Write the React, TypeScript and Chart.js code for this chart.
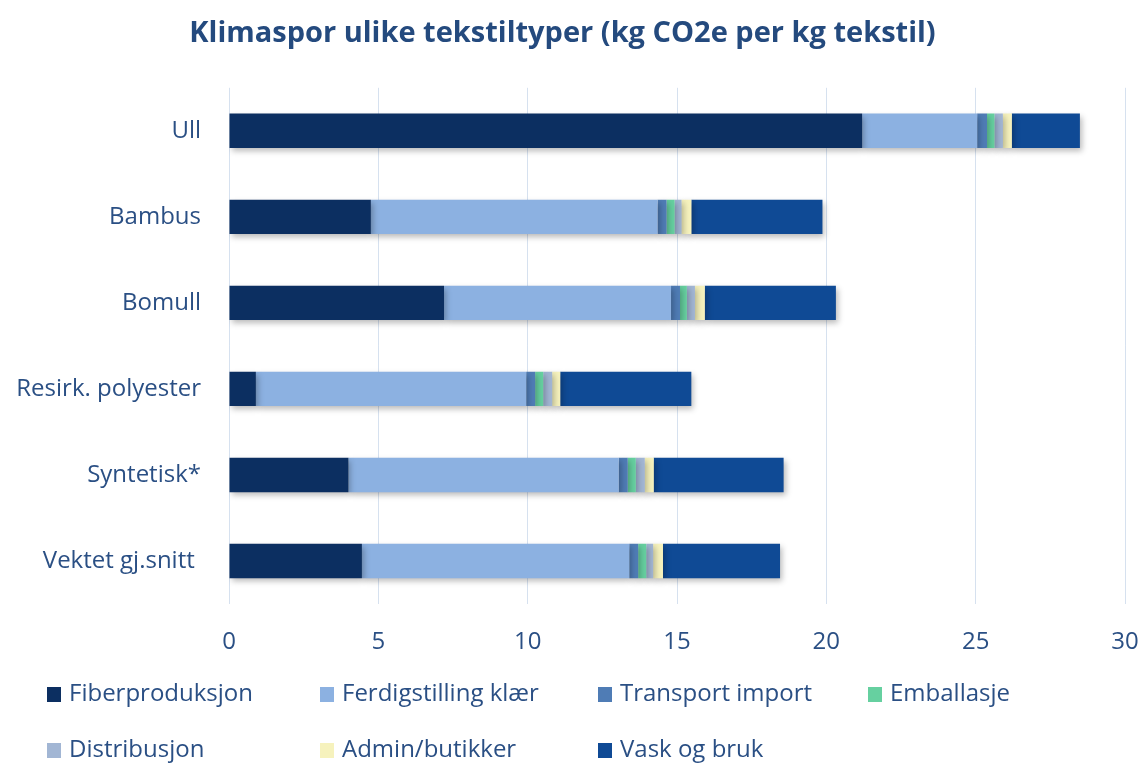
import React, { useEffect, useRef } from "react";
import { Chart, registerables } from "chart.js";

Chart.register(...registerables);

const categories = ["Ull", "Bambus", "Bomull", "Resirk. polyester", "Syntetisk*", "Vektet gj.snitt "];
const fiberproduksjon = [21.2, 4.75, 7.2, 0.9, 4.0, 4.45];
const ferdigstilling = [3.85, 9.6, 7.6, 9.05, 9.05, 8.95];
const transportImport = [0.33, 0.3, 0.3, 0.3, 0.3, 0.3];
const emballasje = [0.25, 0.27, 0.23, 0.27, 0.27, 0.27];
const distribusjon = [0.28, 0.23, 0.27, 0.3, 0.3, 0.23];
const adminButikker = [0.3, 0.33, 0.33, 0.27, 0.3, 0.33];
const vaskOgBruk = [2.28, 4.39, 4.39, 4.39, 4.35, 3.92];
const xTicks = [0, 5, 10, 15, 20, 25, 30];

const seriesNames = [
  "Fiberproduksjon",
  "Ferdigstilling klær",
  "Transport import",
  "Emballasje",
  "Distribusjon",
  "Admin/butikker",
  "Vask og bruk",
];
const seriesValues = [fiberproduksjon, ferdigstilling, transportImport, emballasje, distribusjon, adminButikker, vaskOgBruk];
const seriesColors = ["#0c2f61", "#8cb1e1", "#4f7cb5", "#66d0a0", "#a2b6d4", "#f6f2bd", "#0f4a95"];

const TEXT = "#2a4f84";
const FONT = '"Open Sans", "Liberation Sans", sans-serif';

const shadowPlugin = {
  id: "barShadow",
  beforeDatasetsDraw(chart: any) {
    const ctx = chart.ctx;
    ctx.save();
    ctx.shadowColor = "rgba(0,0,0,0.28)";
    ctx.shadowBlur = 6;
    ctx.shadowOffsetX = 2;
    ctx.shadowOffsetY = 3;
  },
  afterDatasetsDraw(chart: any) {
    chart.ctx.restore();
  },
};

const legendPlugin = {
  id: "gridLegend",
  afterDraw(chart: any) {
    const ctx = chart.ctx;
    const colX = [47, 320, 598, 868];
    const rowY = [694, 750];
    ctx.save();
    ctx.font = `24px ${FONT}`;
    ctx.textBaseline = "middle";
    ctx.textAlign = "left";
    seriesNames.forEach((name, i) => {
      const x = colX[i % 4];
      const y = rowY[Math.floor(i / 4)];
      ctx.fillStyle = seriesColors[i];
      ctx.fillRect(x, y - 7, 14, 15);
      ctx.fillStyle = TEXT;
      ctx.fillText(name, x + 22, y);
    });
    ctx.restore();
  },
};

export default function App() {
  const ref = useRef<HTMLCanvasElement>(null);
  useEffect(() => {
    if (!ref.current) return;
    const chart = new Chart(ref.current, {
      type: "bar",
      data: {
        labels: categories,
        datasets: seriesNames.map((name, i) => ({
          label: name,
          data: seriesValues[i],
          backgroundColor: seriesColors[i],
          borderWidth: 0,
          barPercentage: 0.4,
          categoryPercentage: 1,
        })),
      },
      options: {
        indexAxis: "y",
        animation: false,
        responsive: false,
        maintainAspectRatio: false,
        layout: { padding: { left: 0, right: 20, top: 0, bottom: 101 } },
        plugins: {
          legend: { display: false },
          tooltip: { enabled: false },
          title: {
            display: true,
            text: "Klimaspor ulike tekstiltyper (kg CO2e per kg tekstil)",
            color: "#244a7e",
            font: { family: FONT, size: 29, weight: "bold" },
            padding: { top: 16, bottom: 37 },
          },
        },
        scales: {
          x: {
            stacked: true,
            min: 0,
            max: 30,
            afterBuildTicks(scale: any) {
              scale.ticks = xTicks.map((v) => ({ value: v }));
            },
            afterFit(scale: any) {
              scale.height = 60;
              scale.paddingRight = 0;
              scale.paddingLeft = 0;
            },
            grid: { color: "#d6e1ef", lineWidth: 1, drawTicks: false },
            border: { display: false },
            ticks: { color: TEXT, font: { family: FONT, size: 24 }, padding: 24 },
          },
          y: {
            stacked: true,
            afterFit(scale: any) {
              scale.width = 229;
              scale.paddingTop = 0;
              scale.paddingBottom = 0;
            },
            grid: { display: false },
            border: { display: false },
            ticks: { color: TEXT, font: { family: FONT, size: 24 }, padding: 20 },
          },
        },
      },
      plugins: [shadowPlugin, legendPlugin],
    } as any);
    return () => chart.destroy();
  }, []);
  return (
    <div style={{ position: "absolute", left: 0, top: 0, width: 1145, height: 765, background: "#fff" }}>
      <canvas ref={ref} width={1145} height={765} style={{ width: 1145, height: 765 }} />
    </div>
  );
}
